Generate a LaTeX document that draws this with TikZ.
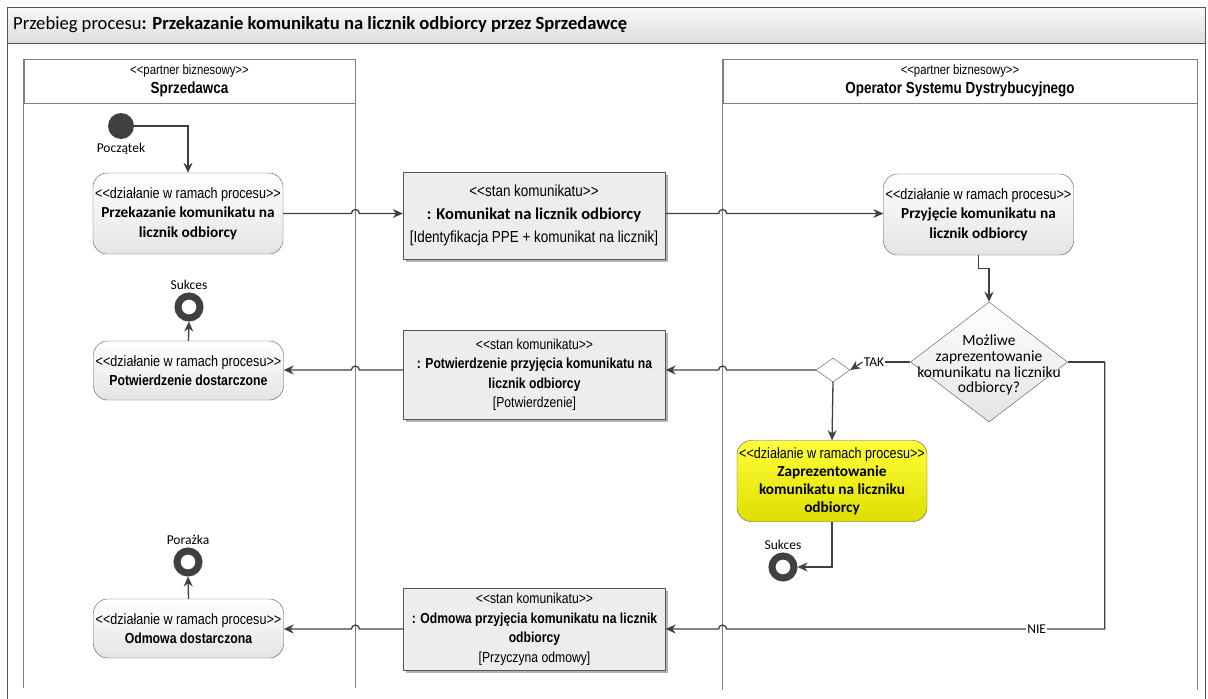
\documentclass[tikz,border=0pt]{standalone}
\usepackage{fontspec}
\setmainfont{Carlito}
\newfontfamily\narrowfont[FakeStretch=0.84]{Liberation Sans}
\usepackage{tikz}
\usetikzlibrary{positioning, arrows.meta, calc, shapes.geometric, shadows}

\definecolor{linegray}{HTML}{404040}
\definecolor{bordergray}{HTML}{555555}
\definecolor{lanegray}{HTML}{808080}
\definecolor{statefill}{HTML}{EDEDED}
\definecolor{actfill}{HTML}{E4E4E4}
\definecolor{hiliteA}{HTML}{FFFF3A}
\definecolor{hiliteB}{HTML}{DEDE00}
\newcommand{\stereo}[1]{<\kern0pt<#1>\kern0pt>}
\newcommand{\stfont}{\narrowfont\fontsize{15}{19}\selectfont}
\newcommand{\hdfont}{\bfseries\fontsize{15.3}{19}\selectfont}
\newcommand{\nbfont}{\narrowfont\bfseries\fontsize{14.6}{19}\selectfont}

\begin{document}
\begin{tikzpicture}[
  x=1pt, y=1pt,
  font=\fontsize{13.5}{16}\selectfont,
  >={Stealth[length=10pt, width=9pt]},
  flow/.style={draw=linegray, line width=1.3pt, ->},
  wire/.style={draw=linegray, line width=1.3pt},
  activity/.style={draw=bordergray, rounded corners=14pt, top color=white, bottom color=actfill, minimum width=190pt, minimum height=81pt, align=center, inner sep=1pt, font=\fontsize{15}{19.5}\selectfont},
  current/.style={activity, top color=hiliteA, bottom color=hiliteB, font=\fontsize{15}{18}\selectfont},
  msgstate/.style={draw=bordergray, fill=statefill, minimum width=262pt, minimum height=87pt, align=center, inner sep=1pt, font=\fontsize{14.5}{19.5}\selectfont, drop shadow={shadow xshift=2.5pt, shadow yshift=-2.5pt, fill=black!30, opacity=1}},
  decision/.style={diamond, draw=bordergray, top color=white, bottom color=actfill, minimum width=157pt, minimum height=120pt, inner sep=0pt},
  joint/.style={diamond, draw=bordergray, fill=white, minimum width=34pt, minimum height=24pt, inner sep=0pt},
  initial/.style={circle, fill=linegray, minimum size=26pt, inner sep=0pt},
  final/.style={circle, draw=linegray, line width=7pt, fill=white, minimum size=22pt, inner sep=0pt},
  lanehead/.style={draw=lanegray, line width=0.8pt, minimum height=44pt, align=center, inner sep=0pt, font=\fontsize{14}{19}\selectfont},
  laneline/.style={draw=lanegray, line width=0.8pt},
  tag/.style={font=\fontsize{13.5}{15}\selectfont, inner sep=1pt}
]
\useasboundingbox (0,0) rectangle (1208,-699);
% frame and title bar
\path[top color=black!3, bottom color=black!13] (7,-7) rectangle (1205,-43);
\draw[bordergray, line width=0.8pt] (7,-699) -- (7,-7) -- (1205,-7) -- (1205,-699);
\draw[bordergray, line width=0.8pt] (7,-43) -- (1205,-43);
\node[anchor=west, inner sep=0pt, font=\fontsize{18.6}{20}\selectfont] (title) at (13,-25)
  {Przebieg procesu\textbf{: Przekazanie komunikatu na licznik odbiorcy przez Sprzedawcę}};

% swimlanes
\node[lanehead, minimum width=331pt] (laneS) at (189.5,-81)
  {{\narrowfont\fontsize{13.5}{19}\selectfont\stereo{partner biznesowy}}\\{\narrowfont\bfseries\fontsize{16}{19}\selectfont Sprzedawca}};
\node[lanehead, minimum width=474pt] (laneO) at (960,-81)
  {{\narrowfont\fontsize{13.5}{19}\selectfont\stereo{partner biznesowy}}\\{\narrowfont\bfseries\fontsize{16}{19}\selectfont Operator Systemu Dystrybucyjnego}};
\draw[laneline] (laneS.north west) -- (laneS.north west |- 0,-688);
\draw[laneline] (laneS.north east) -- (laneS.north east |- 0,-688);
\draw[laneline] (laneO.north west) -- (laneO.north west |- 0,-690);
\draw[laneline] (laneO.north east) -- (laneO.north east |- 0,-690);

% Sprzedawca
\node[initial] (start) at (121,-126) {};
\node[tag, below=3pt of start] (startlbl) {Początek};
\node[activity] (act1) at (188,-213.5)
  {{\stfont\stereo{działanie w ramach procesu}}\\{\hdfont Przekazanie komunikatu na}\\{\hdfont licznik odbiorcy}};
\node[activity, minimum height=59pt] (act3) at (188.5,-370.5)
  {{\stfont\stereo{działanie w ramach procesu}}\\{\nbfont Potwierdzenie dostarczone}};
\node[final] (fin1) at (189,-307) {};
\node[tag, above=2pt of fin1] (fin1lbl) {Sukces};
\node[activity, minimum height=59pt] (act5) at (188.5,-628.5)
  {{\stfont\stereo{działanie w ramach procesu}}\\{\nbfont Odmowa dostarczona}};
\node[final] (fin3) at (188,-562) {};
\node[tag, above=2pt of fin3] (fin3lbl) {Porażka};

% message states
\node[msgstate, font=\fontsize{16}{23}\selectfont] (state1) at (534,-215.5)
  {{\narrowfont\fontsize{16}{23}\selectfont\stereo{stan komunikatu}}\\{\bfseries\fontsize{16.5}{23}\selectfont : Komunikat na licznik odbiorcy}\\{\narrowfont\fontsize{16}{23}\selectfont [Identyfikacja PPE + komunikat na licznik]}};
\node[msgstate, minimum height=89pt] (state2) at (534.5,-374.5)
  {{\narrowfont\stereo{stan komunikatu}}\\{\narrowfont\bfseries : Potwierdzenie przyjęcia komunikatu na}\\{\narrowfont\bfseries licznik odbiorcy}\\{\narrowfont [Potwierdzenie]}};
\node[msgstate, minimum height=82pt] (state3) at (534.5,-629)
  {{\narrowfont\stereo{stan komunikatu}}\\{\narrowfont\bfseries : Odmowa przyjęcia komunikatu na licznik}\\{\narrowfont\bfseries odbiorcy}\\{\narrowfont [Przyczyna odmowy]}};

% Operator Systemu Dystrybucyjnego
\node[activity] (act2) at (978.5,-214.5)
  {{\stfont\stereo{działanie w ramach procesu}}\\{\hdfont Przyjęcie komunikatu na}\\{\hdfont licznik odbiorcy}};
\node[decision] (dec) at (989,-362) {};
\node[align=center, font=\fontsize{15.5}{15.8}\selectfont] (decq) at ([yshift=-3pt]dec.center)
  {Możliwe\\zaprezentowanie\\komunikatu na liczniku\\odbiorcy?};
\node[joint] (merge) at (833,-370) {};
\node[tag] (tak) at (874,-362) {TAK};
\node[current] (act4) at (832,-481)
  {{\stfont\stereo{działanie w ramach procesu}}\\{\hdfont Zaprezentowanie}\\{\hdfont komunikatu na liczniku}\\{\hdfont odbiorcy}};
\node[final] (fin2) at (783,-567) {};
\node[tag, above=2pt of fin2] (fin2lbl) {Sukces};
\coordinate (nieturn) at ($(dec.east)+(37,0)$);

% flows
\draw[flow] (start.east) -| (act1.north);
\draw[flow] (act1.east) -- ([xshift=-4pt]act1.east -| laneS.east)
  arc[start angle=180, end angle=0, radius=4pt] -- (act1.east -| state1.west);
\draw[flow] (act1.east -| state1.east) -- ([xshift=-4pt]act1.east -| laneO.west)
  arc[start angle=180, end angle=0, radius=4pt] -- (act1.east -| act2.west);
\draw[flow] (act2.south) -- ++(0,-13) -| (dec.north);
\draw[wire] (dec.west) -- (tak.east);
\draw[flow] (tak.west) -- (merge.east);
\draw[flow] (merge.west) -- ([xshift=4pt]merge.west -| laneO.west)
  arc[start angle=0, end angle=180, radius=4pt] -- (merge.west -| state2.east);
\draw[flow] (merge.west -| state2.west) -- ([xshift=4pt]merge.west -| laneS.east)
  arc[start angle=0, end angle=180, radius=4pt] -- (merge.west -| act3.east);
\draw[flow] (act3.north) -- (fin1.south);
\draw[flow] (merge.south) -- (act4.north);
\draw[flow] (act4.south) |- (fin2.east);
\draw[wire] (dec.east) -- (nieturn);
\draw[flow] (nieturn) -- (nieturn |- state3.east)
  -- node[tag, fill=white, pos=0.18] (nie) {NIE} ([xshift=4pt]state3.east -| laneO.west)
  arc[start angle=0, end angle=180, radius=4pt] -- (state3.east);
\draw[flow] (state3.west) -- ([xshift=4pt]state3.west -| laneS.east)
  arc[start angle=0, end angle=180, radius=4pt] -- (state3.west -| act5.east);
\draw[flow] (act5.north) -- (fin3.south);
\end{tikzpicture}
\end{document}
